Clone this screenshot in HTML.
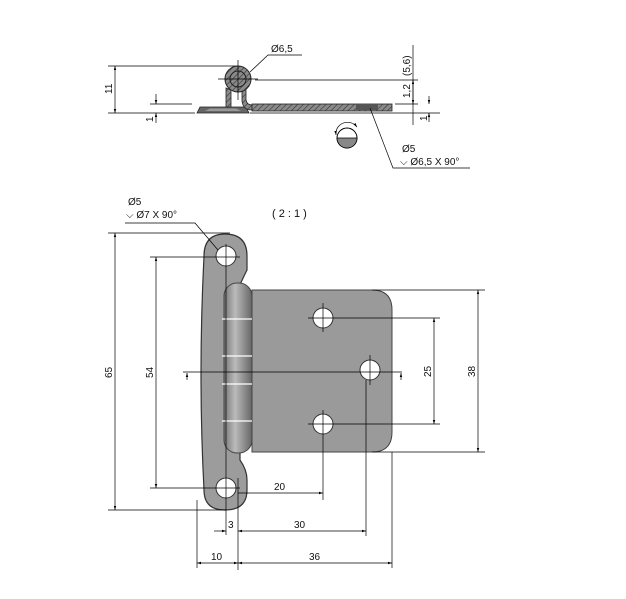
<!DOCTYPE html>
<html><head><style>
html,body{margin:0;padding:0;background:#fff;}
svg{display:block;font-family:"Liberation Sans",sans-serif;}
text{font-size:10px;fill:#111;}
</style></head><body>
<svg width="626" height="599" viewBox="0 0 626 599" xmlns="http://www.w3.org/2000/svg">
<defs>
<marker id="a" viewBox="0 0 10 10" refX="10" refY="5" markerWidth="6" markerHeight="6" orient="auto-start-reverse"><path d="M0,2L10,5L0,8z" fill="#000"/></marker>
<pattern id="h" width="4" height="4" patternUnits="userSpaceOnUse" patternTransform="rotate(45)"><rect width="4" height="4" fill="#8a8a8a"/><line x1="0" y1="0" x2="0" y2="4" stroke="#333" stroke-width="1.2"/></pattern>
<linearGradient id="k" x1="0" x2="1"><stop offset="0" stop-color="#777"/><stop offset="0.4" stop-color="#bbb"/><stop offset="1" stop-color="#666"/></linearGradient>
</defs>
<g stroke="#000" stroke-width="0.7" fill="none">
<line x1="108" y1="66" x2="238" y2="66"/>
<line x1="108" y1="113" x2="195" y2="113"/>
<line x1="115" y1="66" x2="115" y2="113" marker-start="url(#a)" marker-end="url(#a)"/>
<line x1="150" y1="104" x2="192" y2="104"/>
<line x1="156" y1="94" x2="156" y2="104" marker-end="url(#a)"/>
<line x1="156" y1="123" x2="156" y2="113" marker-end="url(#a)"/>
<line x1="250" y1="113" x2="440" y2="113"/>
<line x1="255" y1="80" x2="418" y2="80"/>
<line x1="395" y1="104" x2="418" y2="104"/>
<line x1="413" y1="45" x2="413" y2="125"/>
<line x1="413" y1="92" x2="413" y2="80" marker-end="url(#a)"/>
<line x1="413" y1="92" x2="413" y2="104" marker-end="url(#a)"/>
<line x1="429" y1="96" x2="429" y2="104" marker-end="url(#a)"/>
<line x1="429" y1="122" x2="429" y2="113" marker-end="url(#a)"/>
</g>
<!-- left flange -->
<path d="M197,113 L200,107 L246,107 L249,113 Z" fill="#666" stroke="#222" stroke-width="0.8"/>
<path d="M205,111 L210,108.5 L236,108.5 L241,111 Z" fill="#999"/>
<!-- uprights -->
<path d="M226,88 L226,107 L231,107 L231,90 Z" fill="url(#h)" stroke="#222" stroke-width="0.8"/>
<path d="M246,88 L246,100 Q247,105 252,105 L252,110 Q243,110 242,101 L242,90 Z" fill="url(#h)" stroke="#222" stroke-width="0.8"/>
<!-- plate -->
<rect x="252" y="104" width="140" height="7" fill="url(#h)" stroke="#222" stroke-width="0.8"/>
<rect x="356" y="104" width="22" height="6" fill="#555"/>
<!-- ring -->
<circle cx="238" cy="79" r="13" fill="url(#h)" stroke="#222"/>
<circle cx="238" cy="79" r="8" fill="url(#h)" stroke="#222"/>
<g stroke="#000" stroke-width="0.7" fill="none">
<line x1="218" y1="79" x2="258" y2="79"/>
<line x1="238" y1="60" x2="238" y2="100"/>
<path d="M250,72 L268,55 L302,55"/>
<path d="M370,108 L393,168 L470,168"/>
<path d="M338,127 A12,12 0 0 1 357,127" marker-end="url(#a)"/>
<path d="M338,127 A12,12 0 0 0 336,135" marker-end="url(#a)"/>
</g>
<circle cx="347" cy="138" r="10" fill="#fff" stroke="#000"/>
<path d="M337,138 A10,10 0 0 0 357,138 Z" fill="#888" stroke="#000" stroke-width="0.7"/>
<text x="271" y="52">Ø6,5</text>
<text transform="translate(410,76) rotate(-90)">(5,6)</text>
<text transform="translate(410,98) rotate(-90)">1,2</text>
<text transform="translate(427,121) rotate(-90)">1</text>
<text transform="translate(112,94) rotate(-90)">11</text>
<text transform="translate(153,122) rotate(-90)">1</text>
<text x="402" y="152">Ø5</text>
<text x="400" y="165">⌵ Ø6,5 X 90°</text>
<text x="272" y="217" style="font-size:11px">( 2 : 1 )</text>
<!-- front view -->
<path d="M252,290 L372,290 Q392,290 392,310 L392,432 Q392,452 372,452 L252,452 Z" fill="#9a9a9a" stroke="#444"/>
<path d="M225,234 Q247,234 247,256 L247,270 Q242,280 240,285 L240,460 Q247,470 247,480 L247,490 Q247,510 225,510 Q204,510 204,490 Q198,375 204,256 Q204,234 225,234 Z" fill="#9c9c9c" stroke="#333" stroke-width="1.2"/>
<rect x="224" y="283" width="28" height="170" rx="13" fill="url(#k)" stroke="#444"/>
<g stroke="#fff" stroke-width="1.2"><line x1="222" y1="319" x2="252" y2="319"/><line x1="222" y1="356" x2="252" y2="356"/><line x1="222" y1="384" x2="252" y2="384"/><line x1="222" y1="421" x2="252" y2="421"/></g>
<g fill="#fff" stroke="#333"><circle cx="226" cy="256" r="10"/><circle cx="226" cy="488" r="10"/><circle cx="323" cy="318" r="10"/><circle cx="370" cy="370" r="10"/><circle cx="323" cy="424" r="10"/></g>
<g stroke="#000" stroke-width="0.7" fill="none">
<line x1="108" y1="233" x2="230" y2="233"/>
<line x1="108" y1="510" x2="226" y2="510"/>
<line x1="115" y1="233" x2="115" y2="510" marker-start="url(#a)" marker-end="url(#a)"/>
<line x1="150" y1="257" x2="240" y2="257"/>
<line x1="150" y1="488" x2="240" y2="488"/>
<line x1="156" y1="257" x2="156" y2="488" marker-start="url(#a)" marker-end="url(#a)"/>
<path d="M125,223 L195,223 L218,250"/>
<line x1="226" y1="244" x2="226" y2="535"/>
<line x1="372" y1="290" x2="485" y2="290"/>
<line x1="372" y1="452" x2="485" y2="452"/>
<line x1="478" y1="290" x2="478" y2="452" marker-start="url(#a)" marker-end="url(#a)"/>
<line x1="308" y1="318" x2="440" y2="318"/>
<line x1="308" y1="424" x2="440" y2="424"/>
<line x1="434" y1="318" x2="434" y2="424" marker-start="url(#a)" marker-end="url(#a)"/>
<line x1="323" y1="303" x2="323" y2="332"/>
<line x1="323" y1="410" x2="323" y2="500"/>
<line x1="370" y1="355" x2="370" y2="385"/>
<line x1="366" y1="380" x2="366" y2="536"/>
<line x1="392" y1="452" x2="392" y2="568"/>
<line x1="197" y1="500" x2="197" y2="568"/>
<line x1="238" y1="478" x2="238" y2="570"/>
<line x1="238" y1="493" x2="323" y2="493" marker-end="url(#a)"/>
<line x1="214" y1="531" x2="226" y2="531" marker-end="url(#a)"/>
<line x1="238" y1="531" x2="366" y2="531" marker-start="url(#a)" marker-end="url(#a)"/>
<line x1="197" y1="563" x2="238" y2="563" marker-start="url(#a)" marker-end="url(#a)"/>
<line x1="238" y1="563" x2="392" y2="563" marker-start="url(#a)" marker-end="url(#a)"/>
<line x1="183" y1="372" x2="402" y2="372"/>
<line x1="187" y1="380" x2="187" y2="373" marker-end="url(#a)"/>
<line x1="401" y1="380" x2="401" y2="373" marker-end="url(#a)"/>
</g>
<text x="128" y="205">Ø5</text>
<text x="126" y="218">⌵ Ø7 X 90°</text>
<text transform="translate(112,378) rotate(-90)">65</text>
<text transform="translate(153,378) rotate(-90)">54</text>
<text transform="translate(475,377) rotate(-90)">38</text>
<text transform="translate(431,377) rotate(-90)">25</text>
<text x="274" y="490">20</text>
<text x="228" y="528">3</text>
<text x="294" y="528">30</text>
<text x="211" y="560">10</text>
<text x="309" y="560">36</text>
</svg>
</body></html>
